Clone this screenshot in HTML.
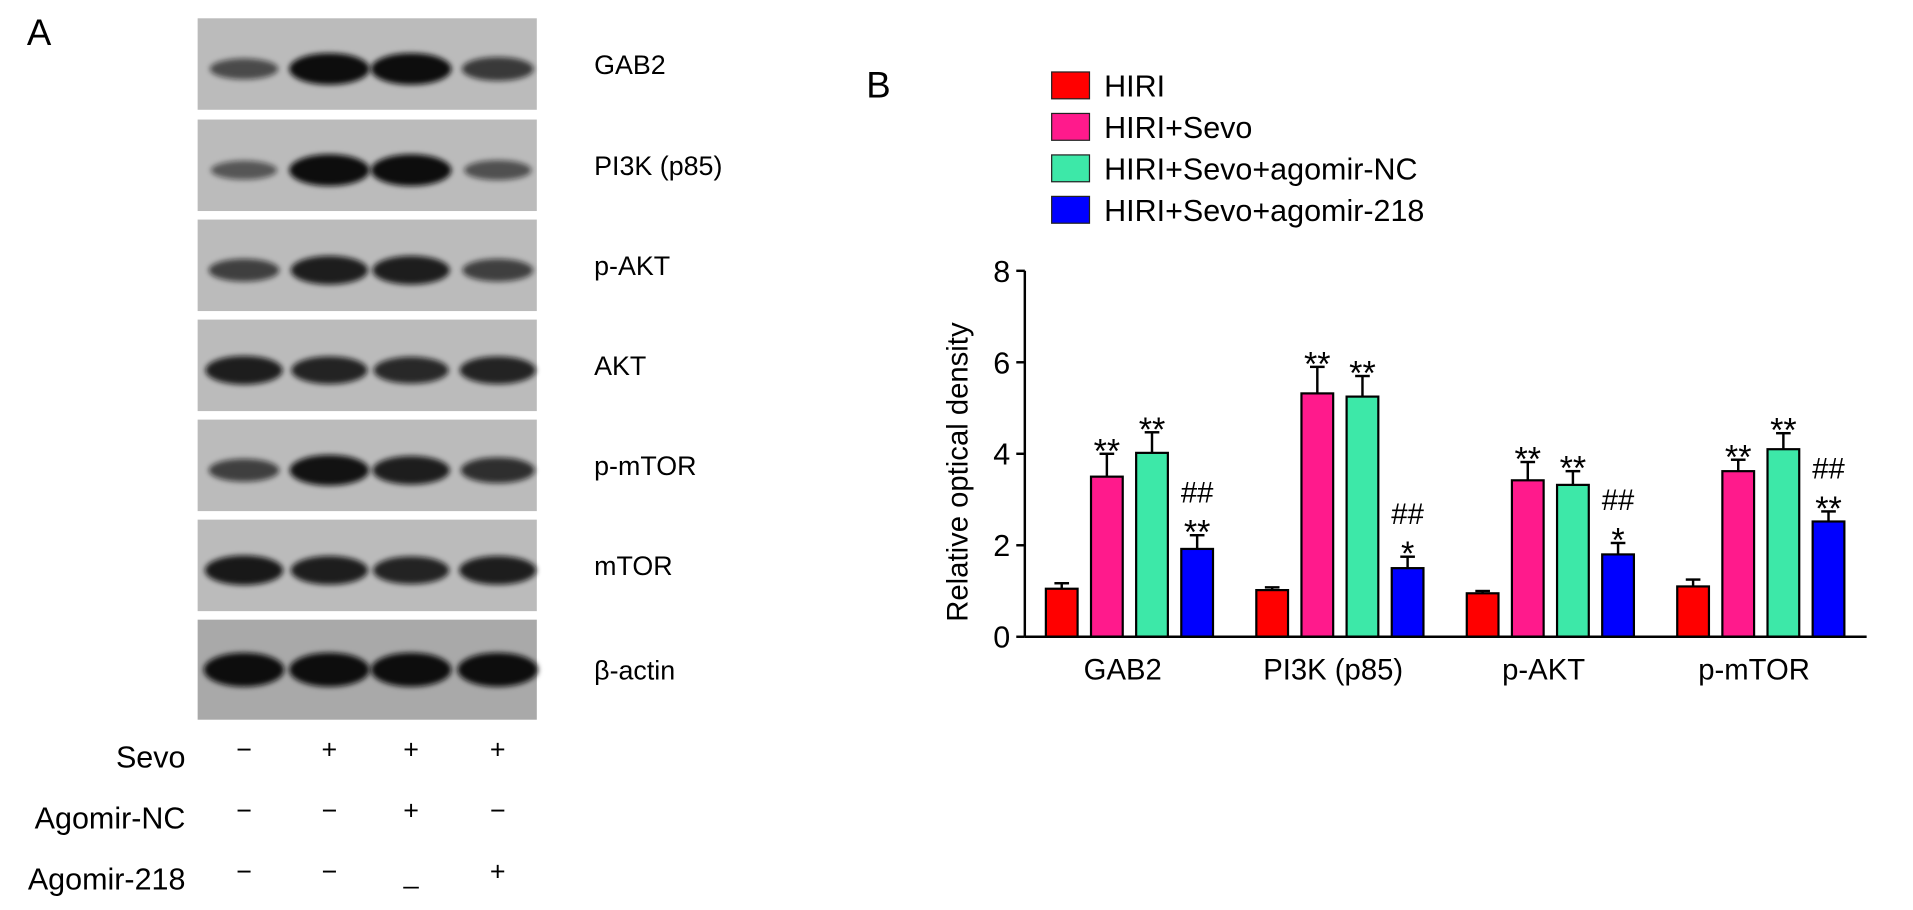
<!DOCTYPE html>
<html><head><meta charset="utf-8"><style>
html,body{margin:0;padding:0;background:#fff;}
svg{display:block;font-family:"Liberation Sans",Arial,sans-serif;}
</style></head><body>
<svg id="fig" width="1913" height="910" viewBox="0 0 1568 746" preserveAspectRatio="none" xmlns="http://www.w3.org/2000/svg">
<defs><filter id="blur" x="-20%" y="-50%" width="140%" height="200%"><feGaussianBlur stdDeviation="2.2"/></filter></defs>
<text x="22" y="37" font-size="30">A</text>
<text x="710" y="80" font-size="30">B</text>
<g id="blots"></g>
<g id="conds"></g>
<g id="chart"></g>
</svg>
<script>
const NS='http://www.w3.org/2000/svg';
function mk(parent,tag,attrs,text){const e=document.createElementNS(NS,tag);for(const k in attrs)e.setAttribute(k,attrs[k]);if(text!==undefined)e.textContent=text;parent.appendChild(e);return e;}

// ---- Blot data ----
const proteins=['GAB2','PI3K (p85)','p-AKT','AKT','p-mTOR','mTOR','β-actin'];
const bandIntensity=[[0.45,1,1,0.6],[0.35,1,1,0.4],[0.55,0.85,0.85,0.55],[0.85,0.8,0.75,0.8],[0.55,0.95,0.85,0.7],[0.9,0.85,0.8,0.85],[1,1,1,1]];
const laneX=[200,270,337,408];
const rowTop=[15,98,180,262,344,426,508];
const rowH=[75,75,75,75,75,75,82];
const blots=document.getElementById('blots');
proteins.forEach((p,i)=>{
  const r=mk(blots,'rect',{x:162,y:rowTop[i],width:278,height:rowH[i],fill:i===6?'#a9a9a9':'#bbbbbb'});
  
  
  const cy=rowTop[i]+rowH[i]/2+(i===6?0:4);
  bandIntensity[i].forEach((v,j)=>{
    const b=mk(blots,'ellipse',{cx:laneX[j],cy:cy,rx:24+9*v,ry:(i===6?14:5+8*v),fill:'#111',opacity:0.35+0.65*v,filter:'url(#blur)'});
    
    
  });
  const t=mk(blots,'text',{x:487,y:rowTop[i]+rowH[i]/2+8,'font-size':22},p);
  
  
});
// conditions
const condNames=['Sevo','Agomir-NC','Agomir-218'];
const condY=[620,670,720];
const condVals=[['−','+','+','+'],['−','−','+','−'],['−','−','_','+']];
const conds=document.getElementById('conds');
condNames.forEach((n,i)=>{
  const t=mk(conds,'text',{x:152,y:condY[i]+9,'font-size':25,'text-anchor':'end'},n);
  
  
  condVals[i].forEach((s,j)=>{
    const u=mk(conds,'text',{x:laneX[j],y:condY[i]+(s==='_'?4:2),'font-size':22,'text-anchor':'middle'},s);
    
    
  });
});

// ---- Chart data ----
const categories=['GAB2','PI3K (p85)','p-AKT','p-mTOR'];
const seriesNames=['HIRI','HIRI+Sevo','HIRI+Sevo+agomir-NC','HIRI+Sevo+agomir-218'];
const colors=['#ff0000','#ff1a8c','#3de8a8','#0000ff'];
const hiri=[1.05,1.02,0.95,1.1];
const sevo=[3.5,5.32,3.42,3.62];
const agoNC=[4.02,5.25,3.32,4.1];
const ago218=[1.92,1.5,1.8,2.52];
const errHiri=[0.12,0.06,0.05,0.15];
const errSevo=[0.5,0.58,0.4,0.25];
const errNC=[0.45,0.45,0.3,0.35];
const err218=[0.3,0.25,0.25,0.22];
const starLabels=[[[],['**'],['**'],['##','**']],[[],['**'],['**'],['##','*']],[[],['**'],['**'],['##','*']],[[],['**'],['**'],['##','**']]];
const yTicks=[0,2,4,6,8];

const chart=document.getElementById('chart');
const x0=840,x1=1530,yBase=522,yTopPx=222,yMax=8;
const yS=v=>yBase-(yBase-yTopPx)*v/yMax;
const groupW=(x1-x0)/categories.length;
const barW=26,step=37;
const xBar=(g,s)=>x0+groupW*(g+0.5)-2*step+s*step+(step-barW)/2-0.5;
const series=[hiri,sevo,agoNC,ago218];
const errs=[errHiri,errSevo,errNC,err218];

// legend
seriesNames.forEach((n,i)=>{
  const y=70+i*34;
  const r=mk(chart,'rect',{x:862,y:y-11,width:31,height:22,fill:colors[i],stroke:'#222','stroke-width':1});
  
  
  const t=mk(chart,'text',{x:905,y:y+9,'font-size':25},n);
  
  
});
// axes
const ya=mk(chart,'line',{x1:x0,y1:yTopPx,x2:x0,y2:yBase,stroke:'#000','stroke-width':2});


yTicks.forEach(v=>{
  const l=mk(chart,'line',{x1:x0-7,y1:yS(v),x2:x0,y2:yS(v),stroke:'#000','stroke-width':2});
  
  
  const t=mk(chart,'text',{x:x0-12,y:yS(v)+9,'font-size':25,'text-anchor':'end'},String(v));
  
  
});
const yt=mk(chart,'text',{x:0,y:0,'font-size':24,'text-anchor':'middle',transform:'translate(793,387) rotate(-90)'},'Relative optical density');


// bars
categories.forEach((c,g)=>{
  series.forEach((arr,s)=>{
    const v=arr[g],x=xBar(g,s),e=errs[s][g];
    const cxm=x+barW/2;
    const el=mk(chart,'line',{x1:cxm,y1:yS(v),x2:cxm,y2:yS(v+e),stroke:'#000','stroke-width':2});
    
    
    const ec=mk(chart,'line',{x1:cxm-6,y1:yS(v+e),x2:cxm+6,y2:yS(v+e),stroke:'#000','stroke-width':2});
    
    
    const b=mk(chart,'rect',{x:x,y:yS(v),width:barW,height:yBase-yS(v),fill:colors[s],stroke:'#000','stroke-width':1.8});
    
    
    const labs=starLabels[g][s];
    labs.slice().reverse().forEach((L,k)=>{
      const isStar=L.startsWith('*');
      const t=mk(chart,'text',{x:cxm,y:yS(v+e)-5-k*22+(isStar?12:0),'font-size':isStar?28:24,'text-anchor':'middle'},L);
      
      
    });
  });
  const t=mk(chart,'text',{x:x0+groupW*(g+0.5)-6,y:557,'font-size':24,'text-anchor':'middle'},c);
  
  
});
const xa=mk(chart,'line',{x1:x0,y1:yBase,x2:x1,y2:yBase,stroke:'#000','stroke-width':2});


</script>
</body></html>
